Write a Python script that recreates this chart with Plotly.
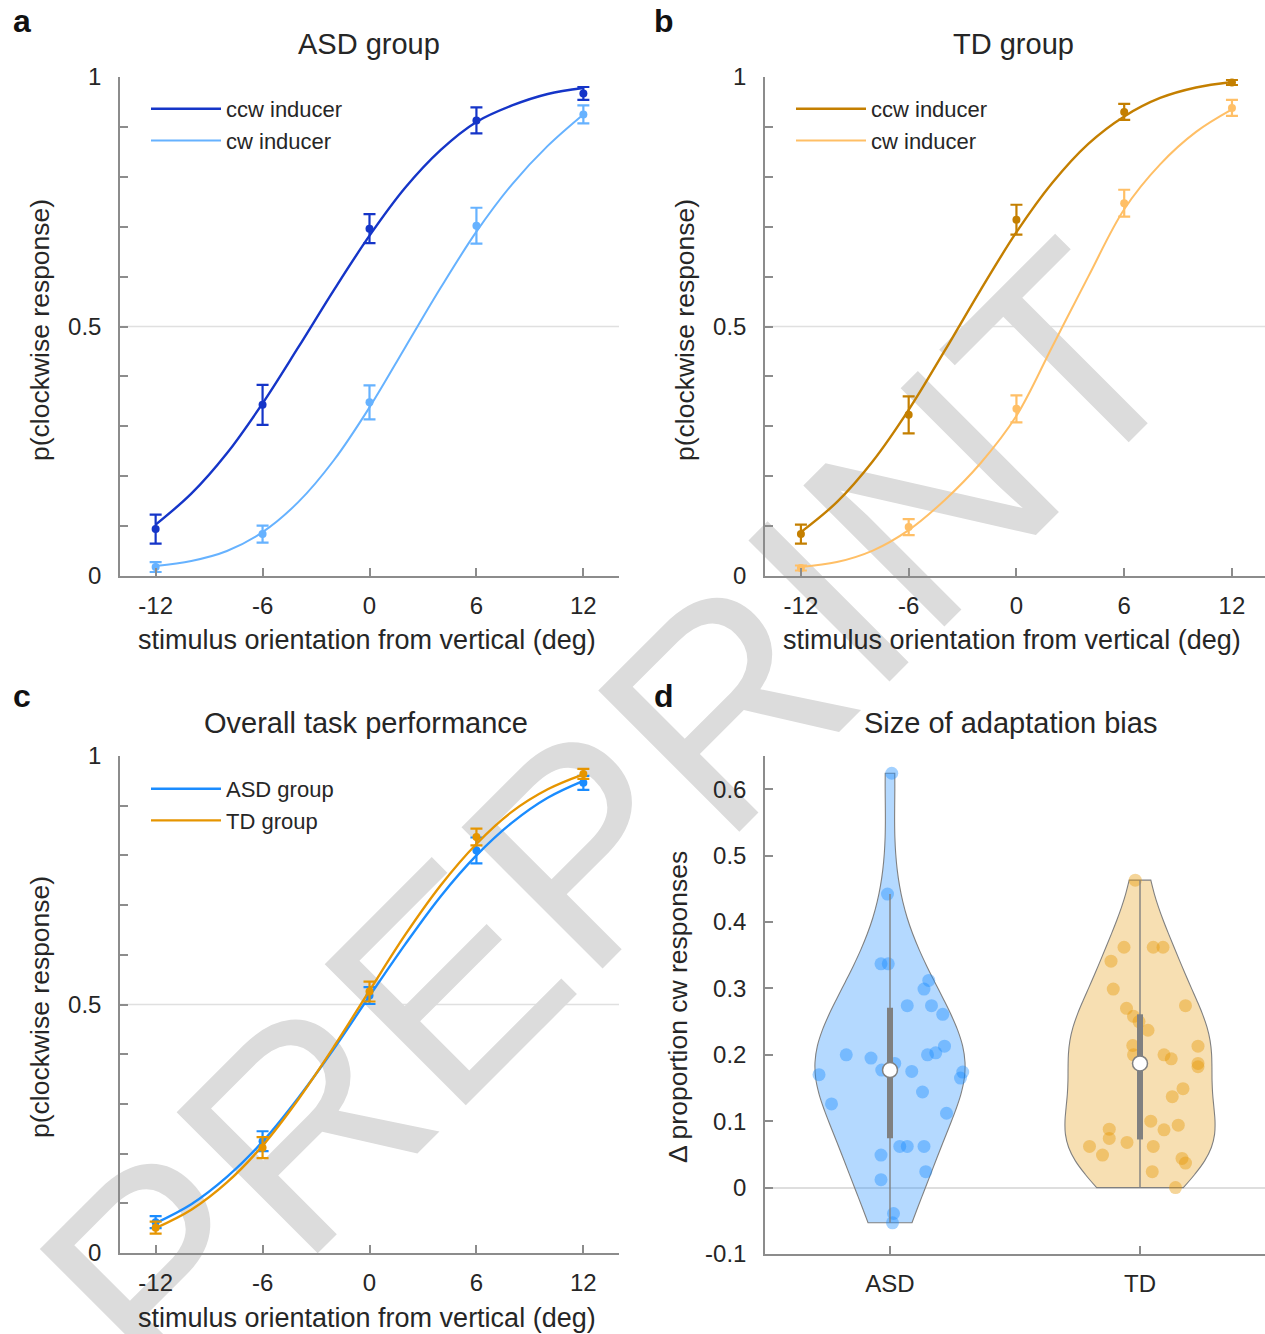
import numpy as np
import plotly.graph_objects as go

W, H = 1265, 1334
FONT = "Liberation Sans, Arial, Helvetica, sans-serif"
TEXT = "#262626"
AXIS = "#8c8c8c"

# ---------------- data ----------------
DATA_X = [-12, -6, 0, 6, 12]
FIT_X = [-12, -10, -8, -6, -4, -2, 0, 2, 4, 6, 8, 10, 12]
X_TICKS = [-12, -6, 0, 6, 12]
X_TICKTEXT = ["-12", "-6", "0", "6", "12"]
CHANCE = 0.5

# panel a: ASD group
asd_ccw_mean = [0.094, 0.343, 0.696, 0.913, 0.967]
asd_ccw_err = [0.029, 0.040, 0.029, 0.026, 0.013]
asd_cw_mean = [0.018, 0.084, 0.348, 0.702, 0.925]
asd_cw_err = [0.010, 0.017, 0.034, 0.036, 0.018]
asd_ccw_fit = [0.103, 0.165, 0.246, 0.346, 0.458, 0.573, 0.682, 0.778, 0.854, 0.910, 0.943, 0.966, 0.978]
asd_cw_fit = [0.020, 0.030, 0.050, 0.088, 0.148, 0.232, 0.338, 0.458, 0.578, 0.690, 0.785, 0.862, 0.925]

# panel b: TD group
td_ccw_mean = [0.084, 0.323, 0.714, 0.930, 0.989]
td_ccw_err = [0.019, 0.037, 0.030, 0.016, 0.005]
td_cw_mean = [0.016, 0.098, 0.335, 0.747, 0.938]
td_cw_err = [0.005, 0.016, 0.027, 0.027, 0.016]
td_ccw_fit = [0.088, 0.148, 0.230, 0.333, 0.451, 0.573, 0.689, 0.788, 0.866, 0.921, 0.958, 0.979, 0.990]
td_cw_fit = [0.018, 0.028, 0.051, 0.092, 0.152, 0.226, 0.321, 0.460, 0.600, 0.735, 0.825, 0.890, 0.935]

# panel c: overall performance
asd_all_mean = [0.062, 0.225, 0.518, 0.810, 0.946]
asd_all_err = [0.012, 0.020, 0.017, 0.026, 0.014]
td_all_mean = [0.051, 0.212, 0.526, 0.837, 0.964]
td_all_err = [0.012, 0.021, 0.020, 0.017, 0.010]
asd_all_fit = [0.060, 0.098, 0.153, 0.224, 0.312, 0.411, 0.517, 0.621, 0.718, 0.800, 0.866, 0.916, 0.950]
td_all_fit = [0.050, 0.087, 0.142, 0.216, 0.309, 0.415, 0.528, 0.640, 0.740, 0.823, 0.888, 0.933, 0.963]

# panel d: adaptation bias per participant (value, horizontal jitter)
GROUPS = ["ASD", "TD"]
asd_bias = [0.624, 0.442, 0.337, 0.337, 0.312, 0.299, 0.274, 0.274, 0.261, 0.200, 0.195,
            0.200, 0.203, 0.213, 0.187, 0.177, 0.170, 0.175, 0.174, 0.165, 0.144, 0.126,
            0.112, 0.062, 0.062, 0.062, 0.049, 0.024, 0.012, -0.039, -0.053]
asd_jitter = [0.007, -0.010, -0.036, -0.007, 0.155, 0.136, 0.069, 0.166, 0.211, -0.175, -0.076,
              0.150, 0.183, 0.218, 0.019, -0.033, -0.284, 0.087, 0.291, 0.282, 0.130, -0.234,
              0.226, 0.039, 0.069, 0.136, -0.036, 0.143, -0.036, 0.014, 0.010]
td_bias = [0.463, 0.362, 0.362, 0.362, 0.341, 0.299, 0.274, 0.270, 0.258, 0.250, 0.237,
           0.213, 0.214, 0.200, 0.200, 0.194, 0.187, 0.182, 0.149, 0.137, 0.100, 0.094,
           0.088, 0.087, 0.074, 0.068, 0.062, 0.062, 0.049, 0.044, 0.037, 0.024, 0.000]
td_jitter = [-0.019, -0.064, 0.053, 0.092, -0.116, -0.107, 0.182, -0.054, -0.026, -0.004, 0.032,
             0.232, -0.029, -0.026, 0.096, 0.125, 0.232, 0.232, 0.172, 0.129, 0.043, 0.153,
             -0.123, 0.096, -0.123, -0.052, -0.202, 0.053, -0.150, 0.168, 0.182, 0.049, 0.142]

# ---------------- styling ----------------
C_ASD_CCW = "#1535c8"
C_ASD_CW = "#66b2ff"
C_TD_CCW = "#c47f00"
C_TD_CW = "#ffbf66"
C_ASD = "#1a8cff"
C_TD = "#e69500"


def px(x):
    return x / W


def py(y):
    return 1 - y / H


fig = go.Figure()


def add_condition(axn, fit, mean, err, color, name, legend, lw):
    xa = "x" if axn == 1 else f"x{axn}"
    ya = "y" if axn == 1 else f"y{axn}"
    fig.add_trace(go.Scatter(x=FIT_X, y=fit, mode="lines", line=dict(color=color, width=lw, shape="spline"),
                             name=name, legend=legend, xaxis=xa, yaxis=ya, hoverinfo="skip"))
    fig.add_trace(go.Scatter(x=DATA_X, y=mean, mode="markers", marker=dict(color=color, size=8),
                             error_y=dict(type="data", array=err, color=color, thickness=2.2, width=6),
                             showlegend=False, xaxis=xa, yaxis=ya, name=name, cliponaxis=False))


add_condition(1, asd_ccw_fit, asd_ccw_mean, asd_ccw_err, C_ASD_CCW, "ccw inducer", "legend", 2.4)
add_condition(1, asd_cw_fit, asd_cw_mean, asd_cw_err, C_ASD_CW, "cw inducer", "legend", 2.0)
add_condition(2, td_ccw_fit, td_ccw_mean, td_ccw_err, C_TD_CCW, "ccw inducer", "legend2", 2.4)
add_condition(2, td_cw_fit, td_cw_mean, td_cw_err, C_TD_CW, "cw inducer", "legend2", 2.0)
add_condition(3, asd_all_fit, asd_all_mean, asd_all_err, C_ASD, "ASD group", "legend3", 2.4)
add_condition(3, td_all_fit, td_all_mean, td_all_err, C_TD, "TD group", "legend3", 2.4)

# ---- panel d: violins ----
violin_specs = [
    (1, asd_bias, asd_jitter, "rgba(26,140,255,0.33)", "rgba(26,140,255,0.40)"),
    (2, td_bias, td_jitter, "rgba(230,150,0,0.30)", "rgba(230,150,0,0.40)"),
]
for pos, vals, jit, fillc, ptc in violin_specs:
    v = np.array(vals)
    fig.add_trace(go.Violin(x0=pos, y=v, spanmode="hard", points=False, width=0.6,
                            fillcolor=fillc, line=dict(color="#808080", width=1.1),
                            box_visible=False, meanline_visible=False, showlegend=False,
                            name=GROUPS[pos - 1], xaxis="x4", yaxis="y4", hoverinfo="skip"))
    fig.add_trace(go.Scatter(x=pos + np.array(jit), y=v, mode="markers",
                             marker=dict(size=13, color=ptc, line=dict(width=0)),
                             showlegend=False, xaxis="x4", yaxis="y4", name=GROUPS[pos - 1]))
    q1, med, q3 = np.percentile(v, [25, 50, 75], method="hazen")
    iqr = q3 - q1
    lo = v[v >= q1 - 1.5 * iqr].min()
    hi = v[v <= q3 + 1.5 * iqr].max()
    fig.add_trace(go.Scatter(x=[pos, pos], y=[lo, hi], mode="lines", line=dict(color="#808080", width=1.4),
                             showlegend=False, xaxis="x4", yaxis="y4", hoverinfo="skip"))
    fig.add_trace(go.Scatter(x=[pos, pos], y=[q1, q3], mode="lines", line=dict(color="#808080", width=6),
                             showlegend=False, xaxis="x4", yaxis="y4", hoverinfo="skip"))
    fig.add_trace(go.Scatter(x=[pos], y=[med], mode="markers",
                             marker=dict(size=15, color="white", line=dict(color="#808080", width=1.5)),
                             showlegend=False, xaxis="x4", yaxis="y4", hoverinfo="skip"))

# ---------------- axes ----------------
tickfont = dict(family=FONT, size=24, color=TEXT)
common = dict(showline=True, linecolor=AXIS, linewidth=1.5, ticks="inside", ticklen=8, tickwidth=1.5,
              tickcolor=AXIS, showgrid=False, zeroline=False, tickfont=tickfont, fixedrange=True)

yt = [round(i * 0.1, 1) for i in range(11)]
ytext = [("0" if t == 0 else "0.5" if t == 0.5 else "1" if t == 1 else "") for t in yt]

panels = {
    1: dict(x=(120, 619), y=(77, 576), xr=[-14, 14]),
    2: dict(x=(765, 1265), y=(77, 576), xr=[-14, -14 + 500 / 17.96]),
    3: dict(x=(120, 619), y=(756, 1253), xr=[-14, 14]),
}
layout_axes = {}
for n, p in panels.items():
    sx = "" if n == 1 else str(n)
    layout_axes[f"xaxis{sx}"] = dict(common, domain=[px(p["x"][0]), px(p["x"][1])], anchor=f"y{sx}",
                                     range=p["xr"], tickvals=X_TICKS, ticktext=X_TICKTEXT,
                                     ticklabelstandoff=7)
    layout_axes[f"yaxis{sx}"] = dict(common, domain=[py(p["y"][1]), py(p["y"][0])], anchor=f"x{sx}",
                                     range=[0, 1], tickvals=yt, ticktext=ytext, ticklabelstandoff=12)

dyt = [round(-0.1 + i * 0.1, 1) for i in range(8)]
layout_axes["xaxis4"] = dict(common, domain=[px(765), 1.0], anchor="y4", range=[0.5, 2.5], type="linear",
                             tickvals=[1, 2], ticktext=GROUPS, ticklabelstandoff=7)
layout_axes["yaxis4"] = dict(common, domain=[py(1254), py(756)], anchor="x4", range=[-0.1, 0.65],
                             tickvals=dyt, ticktext=[f"{t:g}" for t in dyt], ticklabelstandoff=12,
                             zeroline=True, zerolinecolor="#dedede", zerolinewidth=1.5)

# ---------------- annotations ----------------
ann = []


def text(s, x, y, size, bold=False, angle=0):
    ann.append(dict(text=f"<b>{s}</b>" if bold else s, x=px(x), y=py(y), xref="paper", yref="paper",
                    showarrow=False, textangle=angle, xanchor="center", yanchor="middle",
                    font=dict(family=FONT, size=size, color="#111111" if bold else TEXT)))


text("a", 22, 21, 32, bold=True)
text("b", 664, 21, 32, bold=True)
text("c", 22, 696, 32, bold=True)
text("d", 664, 696, 32, bold=True)
text("ASD group", 369, 44, 29)
text("TD group", 1013, 44, 29)
text("Overall task performance", 366, 723, 29)
text("Size of adaptation bias", 1010, 723, 29)
for xc, yc in [(367, 640), (1012, 640), (367, 1318)]:
    text("stimulus orientation from vertical (deg)", xc, yc, 27)
for xc, yc in [(40, 330), (685, 330), (40, 1007)]:
    text("p(clockwise response)", xc, yc, 26.5, angle=-90)
text("Δ proportion cw responses", 678, 1007, 26.5, angle=-90)

shapes = []
for n in (1, 2, 3):
    sx = "" if n == 1 else str(n)
    shapes.append(dict(type="line", xref=f"x{sx} domain", x0=0, x1=1, yref=f"y{sx}", y0=CHANCE, y1=CHANCE,
                       line=dict(color="#e0e0e0", width=1.5), layer="below"))
# watermark
wx, wy = px(592), py(798)
shapes.append(dict(type="rect", xref="paper", yref="paper", x0=wx - 0.01, x1=wx + 0.01, y0=wy - 0.01, y1=wy + 0.01,
                   line=dict(width=0), fillcolor="rgba(0,0,0,0)", layer="below",
                   label=dict(text="PREPRINT", textangle=-45, textposition="middle center",
                              font=dict(family=FONT, size=290, color="#dcdcdc"))))

legend_common = dict(bgcolor="rgba(0,0,0,0)", borderwidth=0, font=dict(family=FONT, size=22, color=TEXT),
                     itemwidth=70, xanchor="left", yanchor="top", tracegroupgap=0, traceorder="normal")

fig.update_layout(
    width=W, height=H, margin=dict(l=0, r=0, t=0, b=0, autoexpand=False),
    paper_bgcolor="white", plot_bgcolor="rgba(0,0,0,0)",
    showlegend=True,
    legend=dict(legend_common, x=px(146), y=py(88)),
    legend2=dict(legend_common, x=px(791), y=py(88)),
    legend3=dict(legend_common, x=px(146), y=py(768)),
    annotations=ann, shapes=shapes,
    violinmode="overlay",
    **layout_axes,
)

fig.write_html("out.html", config={"displayModeBar": False},
               post_script="document.body.style.margin='0';")
